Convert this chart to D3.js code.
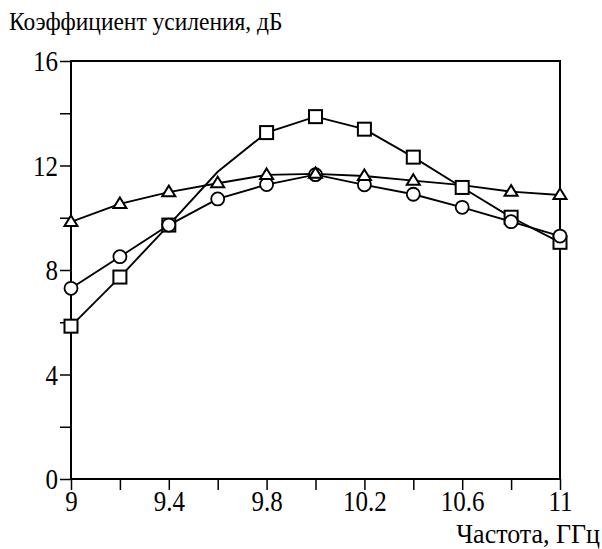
<!DOCTYPE html>
<html><head><meta charset="utf-8">
<script src="https://cdn.jsdelivr.net/npm/d3@7"></script>
<style>body{margin:0;background:#fff}</style>
</head><body><svg id="c" width="602" height="549"></svg>
<script>
const freqs = [9.0, 9.2, 9.4, 9.6, 9.8, 10.0, 10.2, 10.4, 10.6, 10.8, 11.0];
const squareVals   = [5.85, 7.73, 9.72, 11.76, 13.26, 13.87, 13.39, 12.32, 11.16, 10.02, 9.06];
const circleVals   = [7.30, 8.51, 9.72, 10.72, 11.27, 11.65, 11.26, 10.90, 10.40, 9.85, 9.30];
const triangleVals = [9.84, 10.53, 10.98, 11.32, 11.64, 11.68, 11.60, 11.42, 11.25, 11.00, 10.87];
const squareMarks   = [0, 1, 2, 4, 5, 6, 7, 8, 9, 10];
const circleMarks   = [0, 1, 2, 3, 4, 5, 6, 7, 8, 9, 10];
const triangleMarks = [0, 1, 2, 3, 4, 5, 6, 7, 9, 10];
const xMajor = [9, 9.4, 9.8, 10.2, 10.6, 11];
const xMinor = [9.2, 9.6, 10, 10.4, 10.8];
const yMajor = [0, 4, 8, 12, 16];
const yMinor = [2, 6, 10, 14];
const yTitle = "Коэффициент усиления, дБ";
const xTitle = "Частота, ГГц";

const FONT = "'Liberation Serif', Tinos, 'Times New Roman', Times, 'DejaVu Serif', serif";
const SY = 1.14;
const svg = d3.select("#c");
const L = 71, R = 560, T = 61, B = 479;
const x = d3.scaleLinear().domain([9, 11]).range([L, R]);
const y = d3.scaleLinear().domain([0, 16]).range([B, T]);

svg.append("rect").attr("x", L).attr("y", T).attr("width", R - L).attr("height", B - T)
  .attr("fill", "none").attr("stroke", "#000").attr("stroke-width", 2);

const xAx = svg.append("g").attr("transform", `translate(0,${B})`)
  .call(d3.axisBottom(x).tickValues(xMajor.concat(xMinor)).tickSize(11)
    .tickFormat(d => xMajor.some(v => Math.abs(v - d) < 1e-9) ? String(+d.toFixed(1)) : ""));
const yAx = svg.append("g").attr("transform", `translate(${L},0)`)
  .call(d3.axisLeft(y).tickValues(yMajor.concat(yMinor)).tickSize(11)
    .tickFormat(d => yMajor.includes(d) ? d : ""));
[xAx, yAx].forEach(g => {
  g.attr("font-family", null).attr("font-size", null);
  g.select(".domain").remove();
  g.selectAll(".tick line").attr("stroke", "#000").attr("stroke-width", 1.5);
  g.selectAll(".tick text").style("font-family", FONT).style("font-size", "25px").attr("fill", "#000")
    .attr("x", 0).attr("y", 0).attr("dy", null);
});
xAx.selectAll(".tick text").attr("transform", `translate(0,${511 - B}) scale(1,${SY})`);
yAx.selectAll(".tick text").attr("transform", `translate(-13,9.5) scale(1,${SY})`);

function label(txt, tx, ty, size, anchor, sy) {
  svg.append("text").attr("transform", `translate(${tx},${ty}) scale(1,${sy})`)
    .attr("text-anchor", anchor).style("font-family", FONT).style("font-size", size + "px")
    .attr("fill", "#000").text(txt);
}
label(yTitle, 9, 30, 23.5, "start", 1.08);
label(xTitle, 600, 543, 26, "end", 1.08);

const line = d3.line().x(d => x(d[0])).y(d => y(d[1]));
const series = [
  {vals: squareVals, marks: squareMarks, shape: "square"},
  {vals: circleVals, marks: circleMarks, shape: "circle"},
  {vals: triangleVals, marks: triangleMarks, shape: "triangle"}
];
series.forEach(s => {
  const pts = freqs.map((f, i) => [f, s.vals[i]]);
  svg.append("path").attr("d", line(pts)).attr("fill", "none").attr("stroke", "#000").attr("stroke-width", 1.9);
});
series.forEach(s => {
  const g = svg.append("g");
  s.marks.forEach(i => {
    const cx = x(freqs[i]), cy = y(s.vals[i]);
    if (s.shape === "square") {
      g.append("rect").attr("x", cx - 6.5).attr("y", cy - 6.5).attr("width", 13).attr("height", 13)
        .attr("fill", "#fff").attr("stroke", "#000").attr("stroke-width", 2);
    } else if (s.shape === "circle") {
      g.append("circle").attr("cx", cx).attr("cy", cy).attr("r", 6.5)
        .attr("fill", "#fff").attr("stroke", "#000").attr("stroke-width", 1.8);
    } else {
      g.append("path").attr("d", `M${cx},${cy - 6.5}L${cx + 6.5},${cy + 4}L${cx - 6.5},${cy + 4}Z`)
        .attr("fill", "#fff").attr("stroke", "#000").attr("stroke-width", 2);
    }
  });
});
</script></body></html>
